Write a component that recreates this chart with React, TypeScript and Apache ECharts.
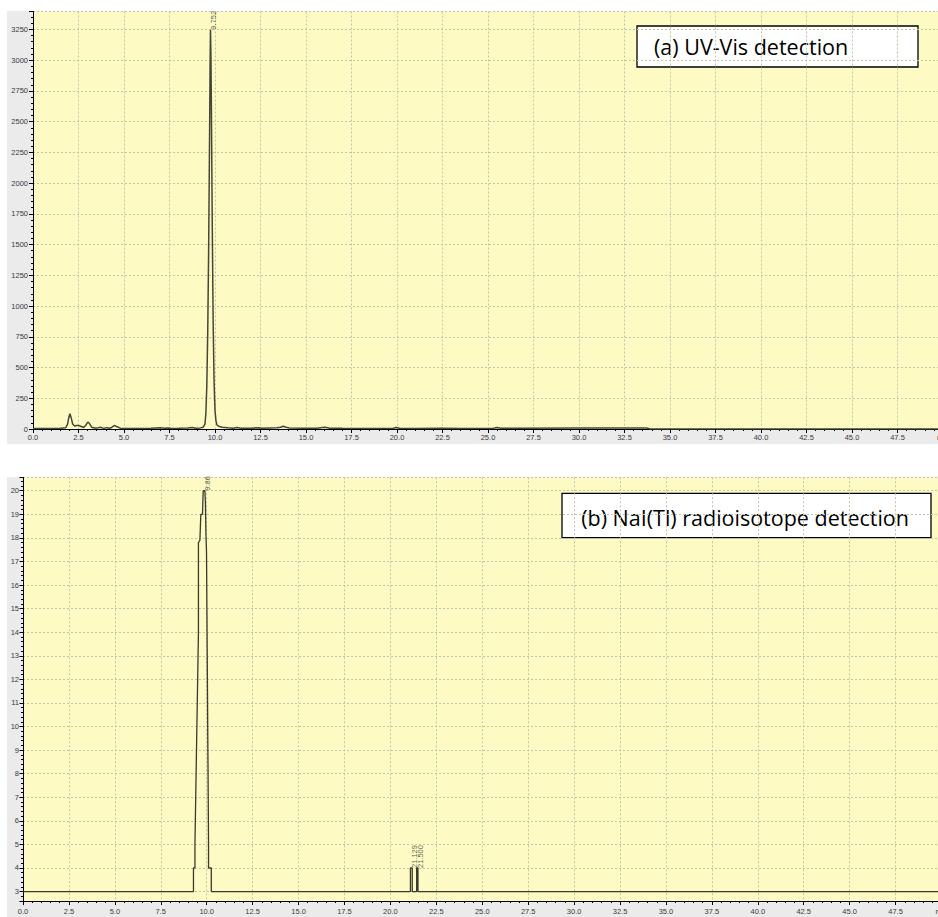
import React, { useEffect, useRef } from "react";
import * as echarts from "echarts";

// (a) UV-Vis trace: retention time (min) and absorbance (mAU)
const uvTime = [0, 0.8, 1.5, 1.8, 1.9, 1.97, 2.03, 2.1, 2.18, 2.28, 2.4, 2.5, 2.62, 2.78, 2.9, 2.98, 3.04, 3.12, 3.22, 3.4, 3.6, 3.7, 3.8, 3.95, 4.05, 4.2, 4.32, 4.42, 4.5, 4.62, 4.8, 5.5, 6.5, 7.0, 7.2, 7.45, 7.6, 8.0, 8.5, 8.75, 8.95, 9.2, 9.35, 9.45, 9.5, 9.55, 9.6, 9.65, 9.7, 9.73, 9.752, 9.78, 9.81, 9.85, 9.9, 9.95, 10.0, 10.05, 10.1, 10.2, 10.4, 10.7, 11.0, 11.2, 11.4, 12.0, 12.4, 12.6, 13.0, 13.4, 13.6, 13.75, 13.9, 14.1, 14.8, 15.6, 15.9, 16.05, 16.3, 17.0, 18.5, 19.8, 19.95, 20.15, 21.0, 22.5, 23.5, 25.3, 25.5, 25.7, 27.0, 30.0, 33.7, 33.9, 50];
const uvAbs = [5, 5, 6, 10, 40, 95, 124, 90, 40, 24, 28, 29, 22, 12, 30, 50, 56, 40, 15, 8, 10, 14, 9, 7, 11, 6, 12, 24, 28, 18, 7, 5, 6, 10, 6, 9, 5, 6, 8, 12, 7, 9, 15, 40, 130, 350, 780, 1450, 2350, 2950, 3248, 3000, 2450, 1650, 850, 380, 150, 70, 35, 22, 15, 10, 7, 12, 7, 6, 11, 6, 8, 10, 14, 22, 14, 8, 6, 7, 12, 14, 7, 6, 5, 6, 12, 6, 5, 6, 5, 6, 12, 6, 7, 8, 8, 0, 0];
const uvPeakTime = [9.752];
const uvPeakAbs = [3248];
const uvPeakText = ["9.752"];

// (b) NaI(Tl) radioactivity trace: retention time (min) and counts
const radioTime = [0, 9.28, 9.28, 9.36, 9.36, 9.55, 9.55, 9.63, 9.68, 9.77, 9.81, 9.9, 9.93, 9.96, 9.99, 10.1, 10.1, 10.25, 10.25, 21.09, 21.09, 21.19, 21.19, 21.43, 21.43, 21.5, 21.5, 50];
const radioCounts = [3, 3, 4, 4, 5, 14, 17.8, 17.9, 19, 19, 20, 20, 19.5, 18.1, 17.4, 5, 4, 4, 3, 3, 4, 4, 3, 3, 4, 4, 3, 3];
const radioPeakTime = [9.86, 21.129, 21.5];
const radioPeakCounts = [20, 4, 4];
const radioPeakText = ["9.86", "21.129", "21.500"];

const panelTitles = ["(a) UV-Vis detection", "(b) NaI(Tl) radioisotope detection"];

const PLOT_BG = "#fdfbc3";
const FRAME_BG = "#ebebeb";
const GRID_LINE = "#c6c4a8";
const LABEL_FONT = "Liberation Sans";

function zip(a: number[], b: number[]) {
  return a.map((v, i) => [v, b[i]]);
}

function timeAxis(gridIndex: number, labelMargin: number) {
  return {
    type: "value",
    gridIndex,
    min: 0,
    max: 50,
    interval: 2.5,
    axisLine: { show: true, onZero: false, lineStyle: { color: "#000", width: 1 } },
    axisTick: { show: true, length: 4, lineStyle: { color: "#000" } },
    minorTick: { show: true, splitNumber: 5, length: 2, lineStyle: { color: "#000" } },
    axisLabel: {
      margin: labelMargin,
      fontSize: 7.5,
      fontFamily: LABEL_FONT,
      color: "#3a3a3a",
      formatter: (v: number) => (v === 50 ? "min" : v.toFixed(1)),
    },
    splitLine: { show: true, lineStyle: { color: GRID_LINE, type: [2, 2], width: 1 } },
  };
}

function peakLabelSeries(xi: number, t: number[], v: number[], text: string[]) {
  return {
    type: "scatter",
    xAxisIndex: xi,
    yAxisIndex: xi,
    symbolSize: 1,
    itemStyle: { color: "rgba(0,0,0,0)" },
    silent: true,
    z: 5,
    data: t.map((x, i) => [x, v[i], text[i]]),
    label: {
      show: true,
      position: "right",
      distance: 2.5,
      rotate: 90,
      fontSize: 7.5,
      fontFamily: LABEL_FONT,
      color: "#333",
      formatter: (p: any) => p.value[2],
    },
  };
}

export default function App() {
  const ref = useRef<HTMLDivElement>(null);

  useEffect(() => {
    if (!ref.current) return;
    const chart = echarts.init(ref.current, null, { renderer: "svg" });

    chart.setOption({
      animation: false,
      backgroundColor: "#ffffff",
      grid: [
        {
          left: 33,
          top: 11.5,
          right: -5,
          bottom: 488,
          show: true,
          backgroundColor: PLOT_BG,
          borderWidth: 0,
          outerBoundsMode: "none",
        },
        {
          left: 23,
          top: 477.3,
          right: -3.5,
          bottom: 16,
          show: true,
          backgroundColor: PLOT_BG,
          borderWidth: 0,
          outerBoundsMode: "none",
        },
      ],
      xAxis: [timeAxis(0, 4), timeAxis(1, 6)],
      yAxis: [
        {
          type: "value",
          gridIndex: 0,
          min: 0,
          max: 3396,
          interval: 250,
          axisLine: { show: true, lineStyle: { color: "#000", width: 1 } },
          axisTick: { show: true, length: 4, lineStyle: { color: "#000" } },
          minorTick: { show: true, splitNumber: 5, length: 2, lineStyle: { color: "#000" } },
          axisLabel: {
            margin: 5,
            fontSize: 7.5,
            fontFamily: LABEL_FONT,
            color: "#3a3a3a",
            showMaxLabel: false,
            formatter: (v: number) => (v % 250 === 0 ? String(v) : ""),
          },
          splitLine: { show: true, lineStyle: { color: GRID_LINE, type: [2, 2], width: 1 } },
        },
        {
          type: "value",
          gridIndex: 1,
          min: 2.6,
          max: 20.57,
          splitNumber: 18,
          minInterval: 1,
          maxInterval: 1,
          axisLine: { show: true, lineStyle: { color: "#000", width: 1 } },
          axisTick: { show: true, length: 3.5, lineStyle: { color: "#000" } },
          minorTick: { show: true, splitNumber: 5, length: 2, lineStyle: { color: "#000" } },
          axisLabel: {
            margin: 4,
            fontSize: 7.5,
            fontFamily: LABEL_FONT,
            color: "#3a3a3a",
            showMinLabel: false,
            showMaxLabel: false,
            formatter: (v: number) => (Number.isInteger(v) ? String(v) : ""),
          },
          splitLine: { show: true, lineStyle: { color: GRID_LINE, type: [2, 2], width: 1 } },
        },
      ],
      series: [
        {
          type: "line",
          xAxisIndex: 0,
          yAxisIndex: 0,
          showSymbol: false,
          silent: true,
          data: zip(uvTime, uvAbs),
          lineStyle: { color: "#45453a", width: 1.5 },
        },
        peakLabelSeries(0, uvPeakTime, uvPeakAbs, uvPeakText),
        {
          type: "line",
          xAxisIndex: 1,
          yAxisIndex: 1,
          showSymbol: false,
          silent: true,
          data: zip(radioTime, radioCounts),
          lineStyle: { color: "#3a3a30", width: 1.3 },
        },
        peakLabelSeries(1, radioPeakTime, radioPeakCounts, radioPeakText),
      ],
      graphic: [
        { type: "rect", z: -1, silent: true, shape: { x: 7, y: 11, width: 931, height: 433 }, style: { fill: FRAME_BG } },
        { type: "rect", z: -1, silent: true, shape: { x: 7, y: 477, width: 931, height: 440 }, style: { fill: FRAME_BG } },
        {
          type: "group",
          z: 100,
          children: [
            {
              type: "rect",
              shape: { x: 637, y: 26, width: 281, height: 41 },
              style: { fill: "#ffffff", stroke: "#000", lineWidth: 1.3 },
            },
            {
              type: "text",
              x: 654,
              y: 46.5,
              style: {
                text: panelTitles[0],
                fill: "#000",
                font: '21.5px "Open Sans"',
                textAlign: "left",
                textVerticalAlign: "middle",
              },
            },
          ],
        },
        {
          type: "group",
          z: 100,
          children: [
            {
              type: "rect",
              shape: { x: 562, y: 493.3, width: 369, height: 44.4 },
              style: { fill: "#ffffff", stroke: "#000", lineWidth: 1.3 },
            },
            {
              type: "text",
              x: 909,
              y: 517,
              style: {
                text: panelTitles[1],
                fill: "#000",
                font: '21.5px "Open Sans"',
                textAlign: "right",
                textVerticalAlign: "middle",
              },
            },
          ],
        },
      ],
    });

    return () => chart.dispose();
  }, []);

  return (
    <div
      ref={ref}
      style={{ position: "fixed", left: 0, top: 0, width: 938, height: 917, background: "#fff" }}
    />
  );
}
